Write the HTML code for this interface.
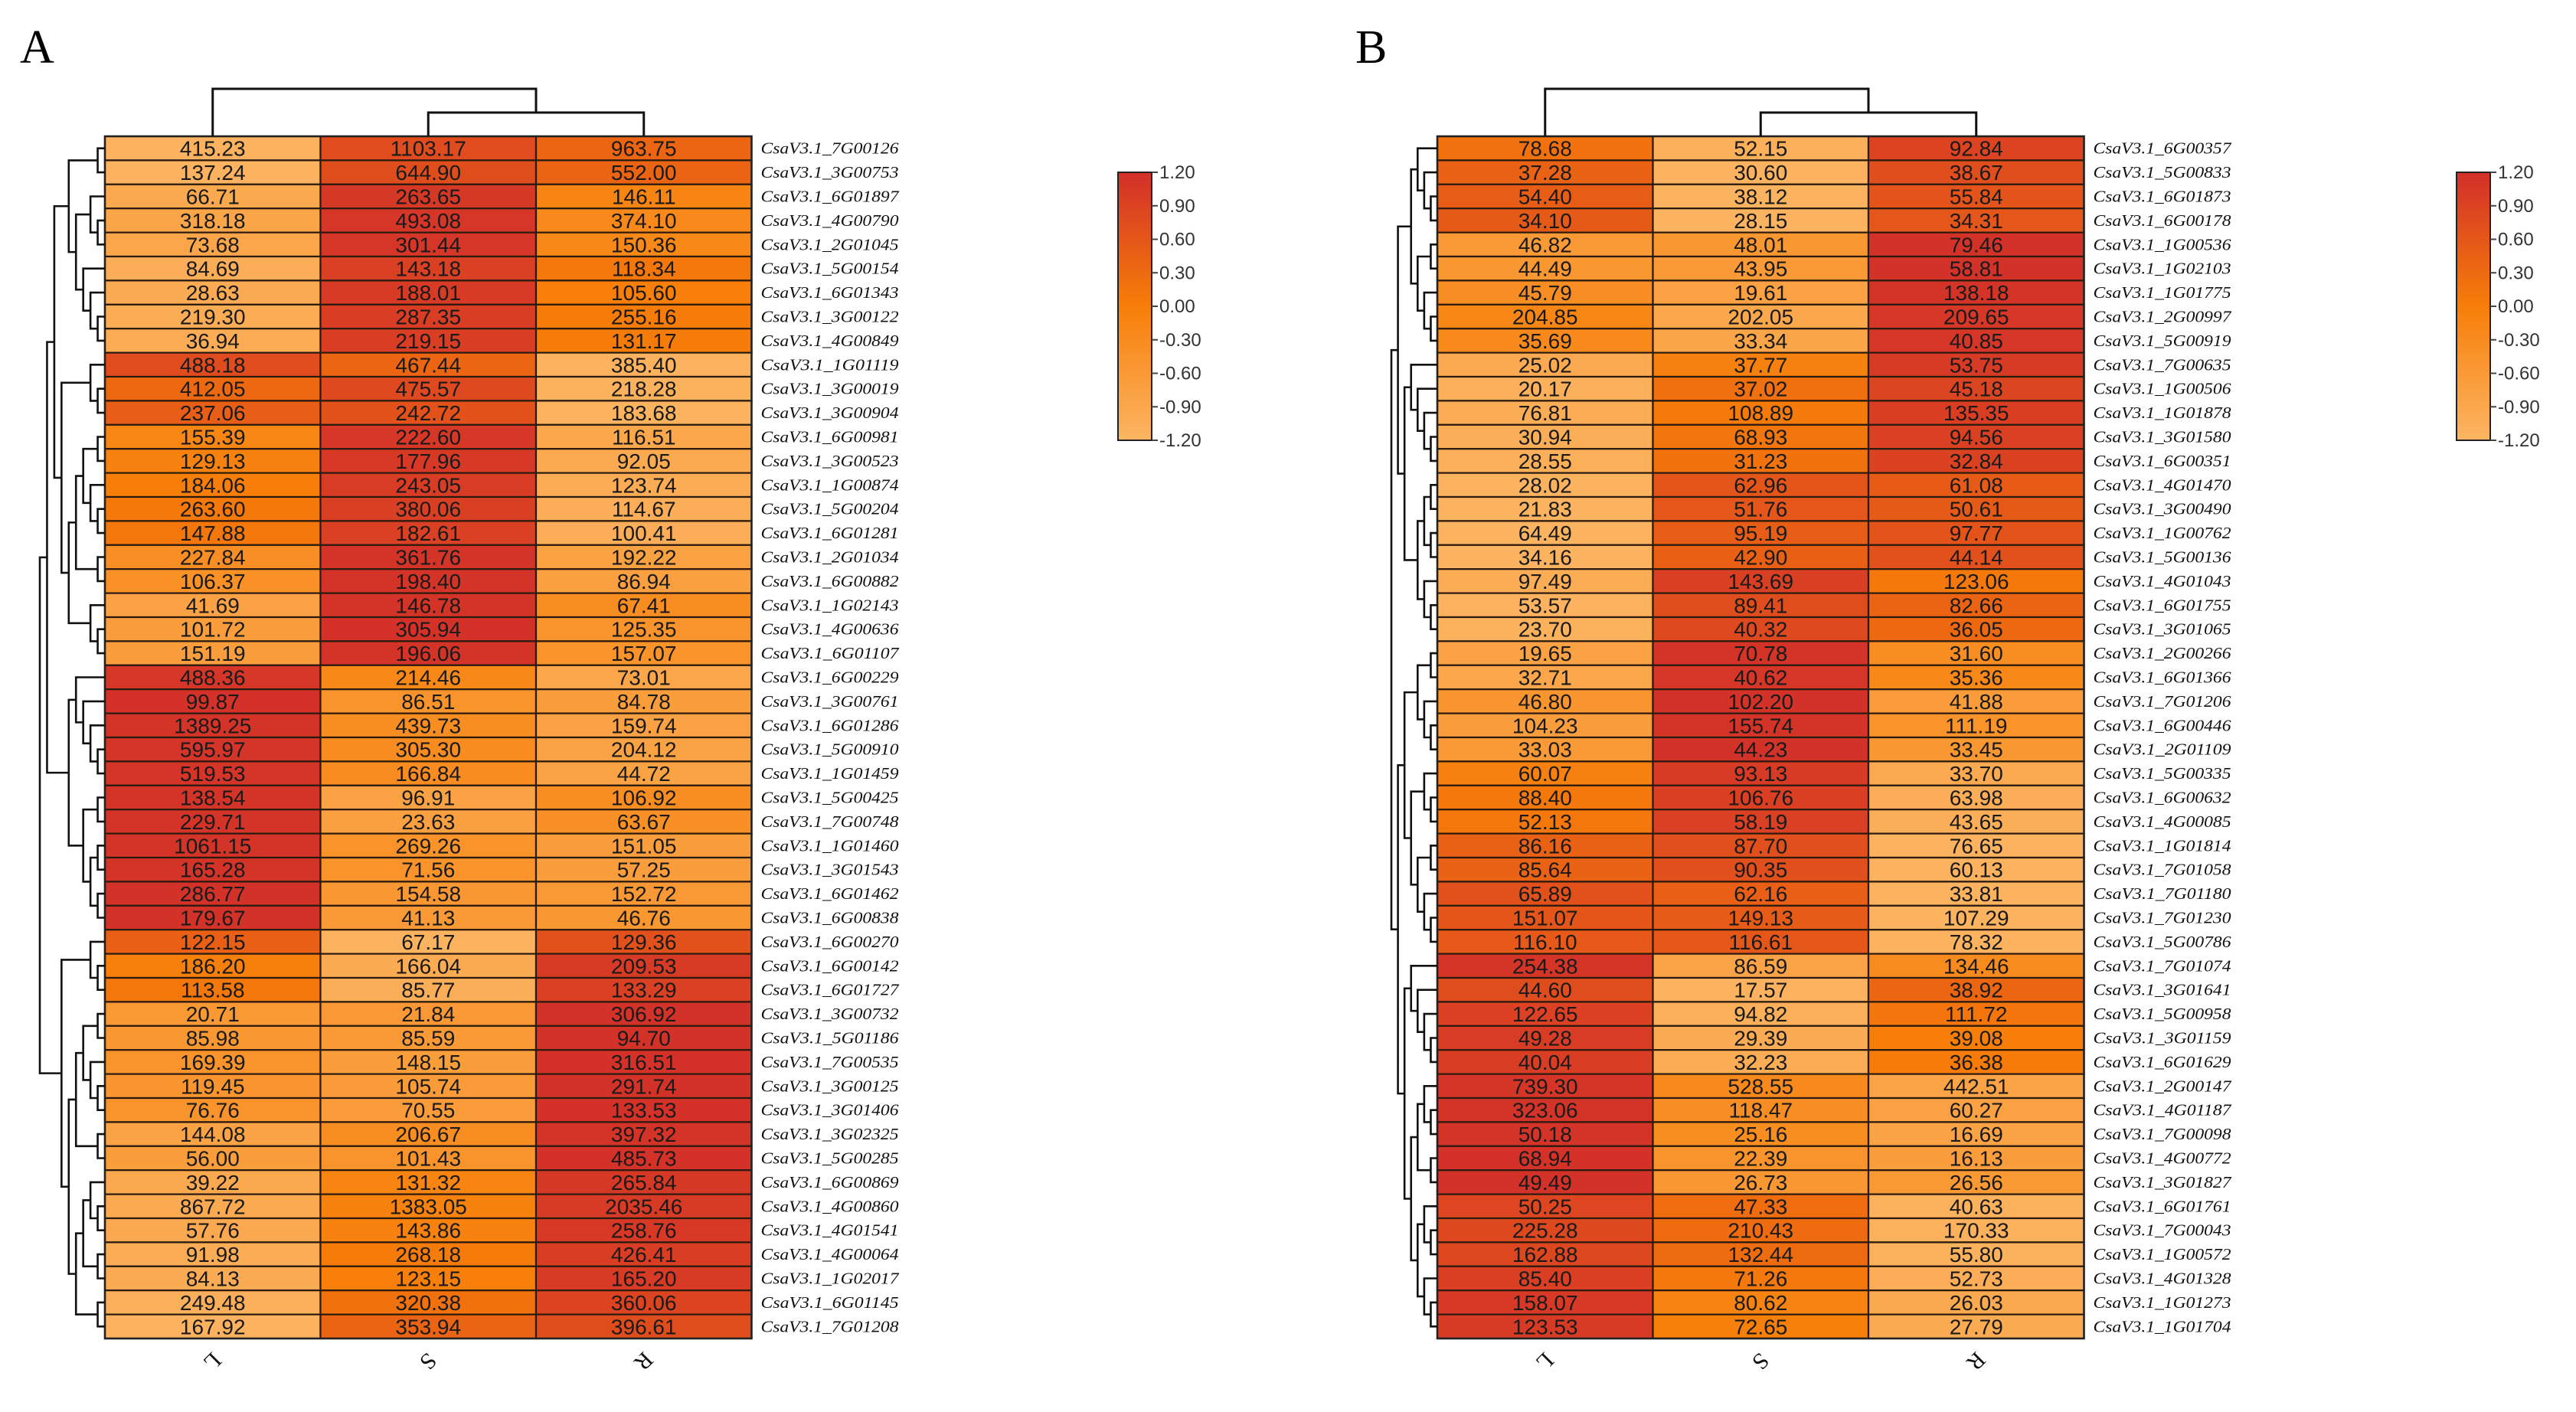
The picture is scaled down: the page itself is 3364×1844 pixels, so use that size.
<!DOCTYPE html>
<html><head><meta charset="utf-8"><style>
html,body{margin:0;padding:0;background:#fff}
svg{display:block}
</style></head><body>
<svg id="fig" width="3364" height="1844" xmlns="http://www.w3.org/2000/svg"></svg>
<script>
const columns = ["L","S","R"];
const genesA = ["7G00126","3G00753","6G01897","4G00790","2G01045","5G00154","6G01343","3G00122","4G00849","1G01119","3G00019","3G00904","6G00981","3G00523","1G00874","5G00204","6G01281","2G01034","6G00882","1G02143","4G00636","6G01107","6G00229","3G00761","6G01286","5G00910","1G01459","5G00425","7G00748","1G01460","3G01543","6G01462","6G00838","6G00270","6G00142","6G01727","3G00732","5G01186","7G00535","3G00125","3G01406","3G02325","5G00285","6G00869","4G00860","4G01541","4G00064","1G02017","6G01145","7G01208"];
const valuesA_L = [415.23,137.24,66.71,318.18,73.68,84.69,28.63,219.30,36.94,488.18,412.05,237.06,155.39,129.13,184.06,263.60,147.88,227.84,106.37,41.69,101.72,151.19,488.36,99.87,1389.25,595.97,519.53,138.54,229.71,1061.15,165.28,286.77,179.67,122.15,186.20,113.58,20.71,85.98,169.39,119.45,76.76,144.08,56.00,39.22,867.72,57.76,91.98,84.13,249.48,167.92];
const valuesA_S = [1103.17,644.90,263.65,493.08,301.44,143.18,188.01,287.35,219.15,467.44,475.57,242.72,222.60,177.96,243.05,380.06,182.61,361.76,198.40,146.78,305.94,196.06,214.46,86.51,439.73,305.30,166.84,96.91,23.63,269.26,71.56,154.58,41.13,67.17,166.04,85.77,21.84,85.59,148.15,105.74,70.55,206.67,101.43,131.32,1383.05,143.86,268.18,123.15,320.38,353.94];
const valuesA_R = [963.75,552.00,146.11,374.10,150.36,118.34,105.60,255.16,131.17,385.40,218.28,183.68,116.51,92.05,123.74,114.67,100.41,192.22,86.94,67.41,125.35,157.07,73.01,84.78,159.74,204.12,44.72,106.92,63.67,151.05,57.25,152.72,46.76,129.36,209.53,133.29,306.92,94.70,316.51,291.74,133.53,397.32,485.73,265.84,2035.46,258.76,426.41,165.20,360.06,396.61];
const genesB = ["6G00357","5G00833","6G01873","6G00178","1G00536","1G02103","1G01775","2G00997","5G00919","7G00635","1G00506","1G01878","3G01580","6G00351","4G01470","3G00490","1G00762","5G00136","4G01043","6G01755","3G01065","2G00266","6G01366","7G01206","6G00446","2G01109","5G00335","6G00632","4G00085","1G01814","7G01058","7G01180","7G01230","5G00786","7G01074","3G01641","5G00958","3G01159","6G01629","2G00147","4G01187","7G00098","4G00772","3G01827","6G01761","7G00043","1G00572","4G01328","1G01273","1G01704"];
const valuesB_L = [78.68,37.28,54.40,34.10,46.82,44.49,45.79,204.85,35.69,25.02,20.17,76.81,30.94,28.55,28.02,21.83,64.49,34.16,97.49,53.57,23.70,19.65,32.71,46.80,104.23,33.03,60.07,88.40,52.13,86.16,85.64,65.89,151.07,116.10,254.38,44.60,122.65,49.28,40.04,739.30,323.06,50.18,68.94,49.49,50.25,225.28,162.88,85.40,158.07,123.53];
const valuesB_S = [52.15,30.60,38.12,28.15,48.01,43.95,19.61,202.05,33.34,37.77,37.02,108.89,68.93,31.23,62.96,51.76,95.19,42.90,143.69,89.41,40.32,70.78,40.62,102.20,155.74,44.23,93.13,106.76,58.19,87.70,90.35,62.16,149.13,116.61,86.59,17.57,94.82,29.39,32.23,528.55,118.47,25.16,22.39,26.73,47.33,210.43,132.44,71.26,80.62,72.65];
const valuesB_R = [92.84,38.67,55.84,34.31,79.46,58.81,138.18,209.65,40.85,53.75,45.18,135.35,94.56,32.84,61.08,50.61,97.77,44.14,123.06,82.66,36.05,31.60,35.36,41.88,111.19,33.45,33.70,63.98,43.65,76.65,60.13,33.81,107.29,78.32,134.46,38.92,111.72,39.08,36.38,442.51,60.27,16.69,16.13,26.56,40.63,170.33,55.80,52.73,26.03,27.79];
const legendTicks = [1.2,0.9,0.6,0.3,0,-0.3,-0.6,-0.9,-1.2];

const NS = "http://www.w3.org/2000/svg";
const svg = document.getElementById('fig');
function mk(tag, attrs, parent){
  const e = document.createElementNS(NS, tag);
  for (const k in attrs) e.setAttribute(k, attrs[k]);
  (parent||svg).appendChild(e);
  return e;
}
function hex(c){return [parseInt(c.slice(1,3),16),parseInt(c.slice(3,5),16),parseInt(c.slice(5,7),16)];}
const cLow = hex("#fcb563"), cMid = hex("#f77e08"), cHigh = hex("#d22f2a");
function colorFor(z){
  z = Math.max(-1.2, Math.min(1.2, z));
  let a,b,t;
  if (z < 0){a=cLow;b=cMid;t=(z+1.2)/1.2;} else {a=cMid;b=cHigh;t=z/1.2;}
  const r = a.map((v,i)=>Math.round(v+(b[i]-v)*t));
  return `rgb(${r[0]},${r[1]},${r[2]})`;
}
function zrow(v){
  const m = (v[0]+v[1]+v[2])/3;
  const sd = Math.sqrt(v.reduce((s,x)=>s+(x-m)*(x-m),0)/2) || 1;
  return v.map(x=>(x-m)/sd);
}

function panel(opt){
  const {letter, lx, left, genes, L, S, R, dendroW, legendX} = opt;
  const top = 178, rowH = 31.4, colW = 281.5, n = genes.length;
  const g = mk('g', {});
  
  
  const pl = mk('text', {x:lx, y:82, 'font-family':'"Liberation Serif", serif', 'font-size':62, fill:'#000'}, g);
  pl.textContent = letter;
  
  
  const xCol = i => left + i*colW;
  const yRow = i => top + i*rowH;
  const zs = [];
  for (let i=0;i<n;i++){
    const vals = [L[i], S[i], R[i]];
    const z = zrow(vals); zs.push(z);
    for (let j=0;j<3;j++){
      const r = mk('rect', {x:xCol(j), y:yRow(i), width:colW, height:rowH, fill:colorFor(z[j]), stroke:'#2a1a10', 'stroke-width':2.2}, g);
      
      
      const t = mk('text', {x:xCol(j)+colW/2, y:yRow(i)+rowH/2+10, 'text-anchor':'middle', 'font-family':'"Liberation Sans", sans-serif', 'font-size':28, fill:'#1a1a1a'}, g);
      t.textContent = vals[j].toFixed(2);
      
      
    }
    const gl = mk('text', {x:xCol(3)+12, y:yRow(i)+rowH/2+7, 'font-family':'"Liberation Serif", serif', 'font-style':'italic', 'font-size':21, fill:'#111', textLength:180, lengthAdjust:'spacingAndGlyphs'}, g);
    gl.textContent = 'CsaV3.1_' + genes[i];
    
    
  }
  mk('rect', {x:left, y:top, width:colW*3, height:rowH*n, fill:'none', stroke:'#222', 'stroke-width':2.5}, g);
  // column labels
  for (let j=0;j<3;j++){
    const cx = xCol(j)+colW/2, cy = 1778;
    const t = mk('text', {x:cx, y:cy+10, 'text-anchor':'middle', 'font-family':'"Liberation Serif", serif', 'font-size':30, fill:'#111', transform:`rotate(135 ${cx} ${cy})`}, g);
    t.textContent = columns[j];
    
    
  }
  // column dendrogram
  const cL = xCol(0)+colW/2, cS = xCol(1)+colW/2, cR = xCol(2)+colW/2, mid = (cS+cR)/2;
  const cd = mk('path', {d:`M${cS},${top} V147 H${cR} V${top} M${cL},${top} V116 H${mid} V147`, fill:'none', stroke:'#111', 'stroke-width':3}, g);
  
  
  // row dendrogram: adjacency-constrained average clustering
  let clusters = zs.map((z,i)=>({y:yRow(i)+rowH/2, v:z.slice(), size:1, h:0}));
  const links = [];
  while (clusters.length > 1){
    let best = 0, bd = Infinity;
    for (let k=0;k<clusters.length-1;k++){
      const a = clusters[k].v, b = clusters[k+1].v;
      const d = Math.hypot(a[0]-b[0],a[1]-b[1],a[2]-b[2]);
      if (d < bd){bd=d;best=k;}
    }
    const a = clusters[best], b = clusters[best+1];
    const s = a.size+b.size;
    const node = {y:(a.y+b.y)/2, v:a.v.map((x,i)=>(x*a.size+b.v[i]*b.size)/s), size:s, h:Math.max(a.h,b.h)+1, a, b};
    links.push(node);
    clusters.splice(best, 2, node);
  }
  const maxH = clusters[0].h;
  const step = dendroW / maxH;
  const xh = h => left - h*step;
  let d = '';
  links.forEach(nd=>{
    const x = xh(nd.h);
    d += `M${xh(nd.a.h)},${nd.a.y} H${x} V${nd.b.y} H${xh(nd.b.h)} `;
  });
  const rd = mk('path', {d, fill:'none', stroke:'#111', 'stroke-width':2.6}, g);
  
  
  // legend
  const lt = 225, lb = 575, lw = 44;
  const gradId = 'grad' + letter;
  const defs = mk('defs', {}, g);
  const lg = mk('linearGradient', {id:gradId, x1:0, y1:0, x2:0, y2:1}, defs);
  mk('stop', {offset:'0%', 'stop-color':colorFor(1.2)}, lg);
  mk('stop', {offset:'50%', 'stop-color':colorFor(0)}, lg);
  mk('stop', {offset:'100%', 'stop-color':colorFor(-1.2)}, lg);
  const lr = mk('rect', {x:legendX, y:lt, width:lw, height:lb-lt, fill:`url(#${gradId})`, stroke:'#222', 'stroke-width':2}, g);
  
  
  legendTicks.forEach(v=>{
    const y = lt + (1.2 - v)/2.4*(lb-lt);
    mk('line', {x1:legendX+lw, x2:legendX+lw+8, y1:y, y2:y, stroke:'#444', 'stroke-width':2}, g);
    const t = mk('text', {x:legendX+lw+10, y:y+8, 'font-family':'"Liberation Sans", sans-serif', 'font-size':24, fill:'#333'}, g);
    t.textContent = v.toFixed(2);
    
    
  });
}
panel({letter:'A', lx:26, left:137, genes:genesA, L:valuesA_L, S:valuesA_S, R:valuesA_R, dendroW:85, legendX:1460});
panel({letter:'B', lx:1770, left:1877, genes:genesB, L:valuesB_L, S:valuesB_S, R:valuesB_R, dendroW:60, legendX:3208});
</script>
</body></html>
